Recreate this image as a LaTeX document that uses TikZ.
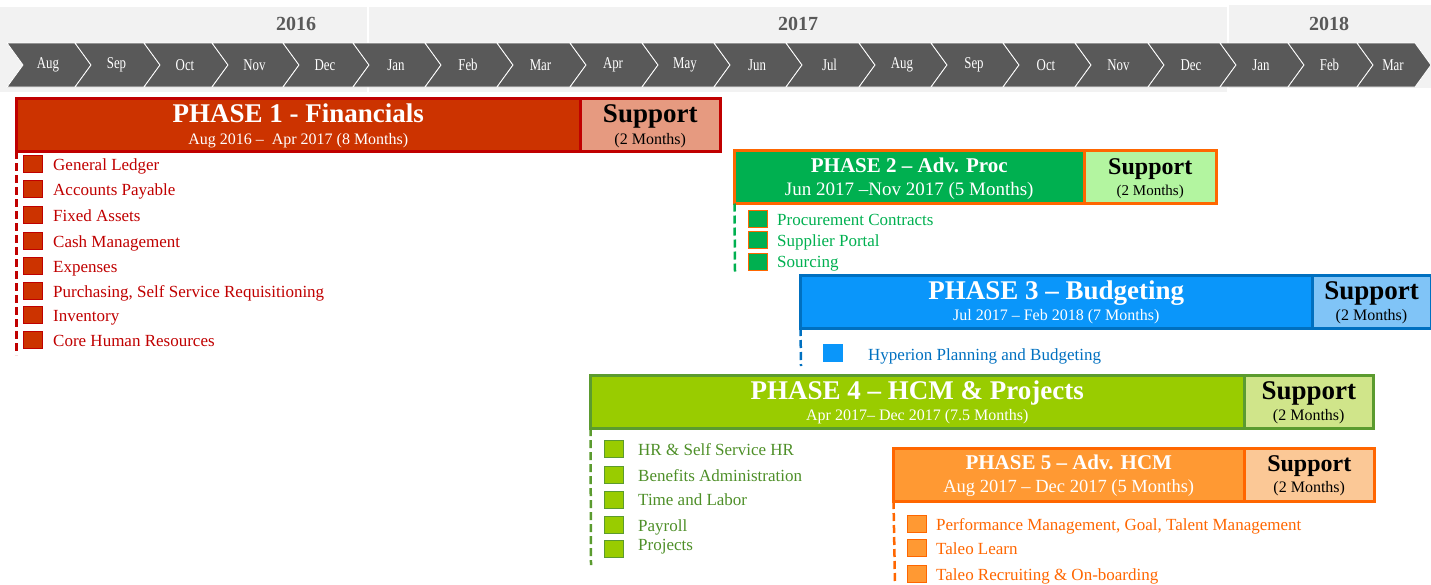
\documentclass[tikz,border=0pt]{standalone}
\usepackage{fontspec}
\setmainfont{Liberation Serif}
\newfontfamily\monthfont{Liberation Serif}[FakeStretch=0.78]
\usepackage{tikz}
\usetikzlibrary{positioning}
\usetikzlibrary{calc}
\definecolor{chev}{HTML}{595959}
\definecolor{band}{HTML}{F2F2F2}
\definecolor{finEdge}{HTML}{C00000}
\definecolor{finMain}{HTML}{CC3300}
\definecolor{finSupp}{HTML}{E69A80}
\definecolor{procMain}{HTML}{00B050}
\definecolor{procSupp}{HTML}{B3F5A0}
\definecolor{procEdge}{HTML}{FF6600}
\definecolor{budMain}{HTML}{0A96FA}
\definecolor{budSupp}{HTML}{80C4F7}
\definecolor{budEdge}{HTML}{0070C0}
\definecolor{hcmMain}{HTML}{99CC00}
\definecolor{hcmSupp}{HTML}{D0E58A}
\definecolor{hcmEdge}{HTML}{5B9B2F}
\definecolor{hcmText}{HTML}{4E8F28}
\definecolor{advMain}{HTML}{FF9933}
\definecolor{advSupp}{HTML}{FBC896}
\definecolor{advEdge}{HTML}{FF6600}
\tikzstyle{chevron} = [fill=chev,draw=white,line width=0.8pt]
\tikzstyle{monthtext} = [text=white,inner sep=0pt,font=\monthfont\fontsize{16.5}{16.5}\selectfont]
\tikzstyle{yeartext} = [text=chev,inner sep=0pt,font=\fontsize{20}{20}\selectfont\bfseries]
\tikzstyle{bar} = [rectangle,line width=3pt,anchor=north west,inner sep=0pt,outer sep=0pt]
\tikzstyle{bigtitle} = [text=white,anchor=base,inner sep=0pt,font=\fontsize{27}{27}\selectfont\bfseries]
\tikzstyle{smalltitle} = [text=white,anchor=base,inner sep=0pt,font=\fontsize{21}{21}\selectfont\bfseries]
\tikzstyle{dates} = [text=white,anchor=base,inner sep=0pt,font=\fontsize{16}{16}\selectfont]
\tikzstyle{bigsupport} = [anchor=base,inner sep=0pt,font=\fontsize{27}{27}\selectfont\bfseries]
\tikzstyle{smallsupport} = [anchor=base,inner sep=0pt,font=\fontsize{24}{24}\selectfont\bfseries]
\tikzstyle{duration} = [anchor=base,inner sep=0pt,font=\fontsize{16}{16}\selectfont]
\tikzstyle{itembox} = [rectangle,minimum width=19pt,minimum height=17pt,inner sep=0pt,line width=0.8pt]
\tikzstyle{itemtext} = [anchor=base west,inner sep=0pt,font=\fontsize{17}{17}\selectfont]
\tikzstyle{dashline} = [draw,line width=2.5pt,dash pattern=on 8pt off 4pt]

\begin{document}
\begin{tikzpicture}[x=1pt,y=-1pt]
\useasboundingbox (0,0) rectangle (1431,584);

% years and months
\fill[band] (0,7) rectangle (367,92);
\fill[band] (369,7) rectangle (1227,92);
\fill[band] (1229,5) rectangle (1431,88);
\foreach \pos/\name/\label in {{(296,24)/y2016/2016}, {(798,24)/y2017/2017}, {(1329,24)/y2018/2018}}
   \node[yeartext] (\name) at \pos {\label};

\foreach \xl/\xr/\mon/\name in {7/75/Aug/aug16, 75/144/Sep/sep16, 144/212/Oct/oct16, 212/283/Nov/nov16, 283/353/Dec/dec16,
   353/425/Jan/jan17, 425/497/Feb/feb17, 497/570/Mar/mar17, 570/642/Apr/apr17, 642/714/May/may17, 714/786/Jun/jun17,
   786/859/Jul/jul17, 859/931/Aug/aug17, 931/1003/Sep/sep17, 1003/1075/Oct/oct17, 1075/1148/Nov/nov17, 1148/1220/Dec/dec17,
   1220/1288/Jan/jan18, 1288/1357/Feb/feb18, 1357/1415/Mar/mar18}
{
   \path[chevron] (\xl,43) -- (\xr,43) -- (\xr+16,65) -- (\xr,87) -- (\xl,87) -- (\xl+16,65) -- cycle;
   \node[monthtext] (\name) at ({(\xl+\xr+14)/2},65) {\mon};
}

% phase bars
\foreach \name/\xa/\xm/\xb/\ya/\yb/\cmain/\csupp/\cedge in {p1/16.5/580/720.5/98.5/151/finMain/finSupp/finEdge,
   p2/734.5/1084/1216.5/150.5/203.5/procMain/procSupp/procEdge, p3/800.5/1312/1431/275.5/328/budMain/budSupp/budEdge,
   p4/590.5/1244/1373.5/375.5/428/hcmMain/hcmSupp/hcmEdge, p5/893.5/1244/1374.5/448.5/501/advMain/advSupp/advEdge}
{
   \node[bar,fill=\cmain,draw=\cedge,minimum width=\xm-\xa,minimum height=\yb-\ya] (\name) at (\xa,\ya) {};
   \node[bar,fill=\csupp,draw=\cedge,minimum width=\xb-\xm,minimum height=\yb-\ya] (s\name) at (\xm,\ya) {};
}

\node[bigtitle] (p1title) at ([yshift=2pt]p1.center) {PHASE 1 - Financials};
\node[dates] (p1dates) at ([yshift=-19.5pt]p1.center) {Aug 2016 –\ \ Apr 2017 (8 Months)};
\node[bigsupport] (p1sup) at ([yshift=2pt]sp1.center) {Support};
\node[duration] (p1len) at ([yshift=-19.5pt]sp1.center) {(2 Months)};

\node[smalltitle] (p2title) at ([yshift=5pt]p2.center) {PHASE 2 – Adv. Proc};
\node[dates,font=\fontsize{19}{19}\selectfont] (p2dates) at ([yshift=-18pt]p2.center) {Jun 2017 –Nov 2017 (5 Months)};
\node[smallsupport] (p2sup) at ([yshift=3pt]sp2.center) {Support};
\node[duration,font=\fontsize{15}{15}\selectfont] (p2len) at ([yshift=-18pt]sp2.center) {(2 Months)};

\node[bigtitle] (p3title) at ([yshift=2pt]p3.center) {PHASE 3 – Budgeting};
\node[dates] (p3dates) at ([yshift=-19pt]p3.center) {Jul 2017 – Feb 2018 (7 Months)};
\node[bigsupport] (p3sup) at ([yshift=2pt]sp3.center) {Support};
\node[duration] (p3len) at ([yshift=-19pt]sp3.center) {(2 Months)};

\node[bigtitle] (p4title) at ([yshift=2pt]p4.center) {PHASE 4 – HCM \& Projects};
\node[dates] (p4dates) at ([yshift=-19pt]p4.center) {Apr 2017– Dec 2017 (7.5 Months)};
\node[bigsupport] (p4sup) at ([yshift=2pt]sp4.center) {Support};
\node[duration] (p4len) at ([yshift=-19pt]sp4.center) {(2 Months)};

\node[smalltitle] (p5title) at ([yshift=5.5pt]p5.center) {PHASE 5 – Adv. HCM};
\node[dates,font=\fontsize{18.5}{18.5}\selectfont] (p5dates) at ([yshift=-18pt]p5.center) {Aug 2017 – Dec 2017 (5 Months)};
\node[smallsupport] (p5sup) at ([yshift=3pt]sp5.center) {Support};
\node[duration] (p5len) at ([yshift=-18pt]sp5.center) {(2 Months)};

% modules per phase
\foreach \by/\ty/\txt [count=\i] in {164/164/General Ledger, 189/189/Accounts Payable, 215/215/Fixed Assets,
   241/241/Cash Management, 266/266/Expenses, {291/291/Purchasing, Self Service Requisitioning},
   315/315/Inventory, 340/340/Core Human Resources}
{
   \node[itembox,fill=finMain,draw=finEdge] (p1b\i) at (33,\by) {};
   \node[itemtext,text=finEdge] (p1i\i) at (53,\ty+6) {\txt};
}
\foreach \by/\ty/\txt [count=\i] in {219/219/Procurement Contracts, 240/240/Supplier Portal, 262/261/Sourcing}
{
   \node[itembox,fill=procMain,draw=procEdge] (p2b\i) at (758,\by) {};
   \node[itemtext,text=procMain] (p2i\i) at (777,\ty+6) {\txt};
}
\foreach \by/\ty/\txt [count=\i] in {353/354/Hyperion Planning and Budgeting}
{
   \node[itembox,fill=budMain,draw=budMain] (p3b\i) at (833,\by) {};
   \node[itemtext,text=budEdge] (p3i\i) at (868,\ty+6) {\txt};
}
\foreach \by/\ty/\txt [count=\i] in {449/449/HR \& Self Service HR, 475/475/Benefits Administration, 500/499/Time and Labor,
   525/525/Payroll, 549/544/Projects}
{
   \node[itembox,fill=hcmMain,draw=hcmEdge] (p4b\i) at (613.5,\by) {};
   \node[itemtext,text=hcmText] (p4i\i) at (638,\ty+6) {\txt};
}
\foreach \by/\ty/\txt [count=\i] in {{524/524/Performance Management, Goal, Talent Management}, 548/548/Taleo Learn,
   574/574/Taleo Recruiting \& On-boarding}
{
   \node[itembox,fill=advMain,draw=advEdge] (p5b\i) at (916.5,\by) {};
   \node[itemtext,text=advEdge] (p5i\i) at (936,\ty+6) {\txt};
}

% dashed guides
\coordinate (p1end) at (16.5,355);
\coordinate (p2end) at (735,272);
\coordinate (p3end) at (801,366);
\coordinate (p4end) at (591,565);
\coordinate (p5end) at (895,584);
\foreach \source/\dest/\col in {p1/p1end/finEdge, p2/p2end/procMain, p3/p3end/budEdge, p4/p4end/hcmEdge, p5/p5end/advEdge}
   \path[dashline,draw=\col] (\source.south west) -- (\dest);

\end{tikzpicture}
\end{document}
